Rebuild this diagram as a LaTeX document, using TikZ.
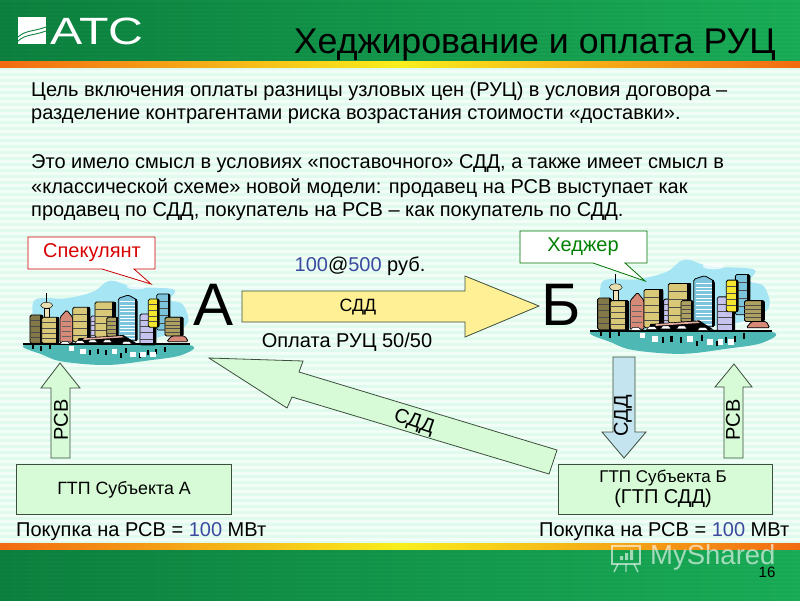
\documentclass[tikz,border=0pt]{standalone}
\usepackage{fontspec}
\setmainfont{Liberation Sans}
\usetikzlibrary{calc}
\definecolor{numblue}{HTML}{3A4A9E}
\definecolor{boxgreen}{HTML}{D6FBD6}
\definecolor{edgegray}{HTML}{3C4F3C}
\definecolor{headL}{HTML}{0D8240}
\definecolor{headR}{HTML}{1AAE58}
\definecolor{bandO}{HTML}{F26A12}
\definecolor{bandY}{HTML}{F8EE1C}
\definecolor{mint}{HTML}{E0FAEE}
\definecolor{sky}{HTML}{A6E6F4}
\definecolor{teal}{HTML}{4DB8B4}
\definecolor{tan}{HTML}{D8C878}
\definecolor{lilac}{HTML}{C6C4EE}
\definecolor{salmon}{HTML}{D88A78}
\definecolor{steel}{HTML}{7CC4DC}
\definecolor{softyellow}{HTML}{FFF096}
\tikzset{
  blockarrow/.style={draw=edgegray,line width=.8pt,line join=miter},
  bodyline/.style={anchor=base west,inner sep=0pt,font=\fontsize{20}{22}\selectfont},
  smalllabel/.style={inner sep=0pt,font=\fontsize{17.8}{20}\selectfont},
  midlabel/.style={inner sep=0pt,font=\fontsize{20}{22}\selectfont},
  bigletter/.style={inner sep=0pt,anchor=base,font=\fontsize{60}{62}\selectfont},
  stationbox/.style={draw=edgegray,fill=boxgreen,line width=.8pt},
  bld/.style={draw=black,line width=.8pt,rounded corners=1.5pt},
}
\newcommand{\bldg}[5]{%
  \fill[#5,bld] (#1,#2) rectangle (#3,#4);
  \fill[black] ({#3-(#3-#1)*.18},#2) rectangle (#3,#4);
  \foreach \wy in {0.2,0.4,0.6,0.8}
    \draw[black!70,line width=.45pt] (#1,{#2+(#4-#2)*\wy}) -- ({#3-(#3-#1)*.18},{#2+(#4-#2)*\wy});
}
\newcommand{\cityscape}[4]{%
\begin{scope}[shift={(#1,#2)},x=#3pt,y=-#4pt]
  \fill[sky] plot[smooth cycle,tension=.6] coordinates {(100,215) (200,205) (280,185) (330,152) (400,170) (520,178) (510,210) (550,225) (555,290) (420,330) (150,330)};
  \fill[white,opacity=.7] (410,170) ellipse (30 and 8);
  \fill[teal] plot[smooth cycle,tension=.6] coordinates {(75,345) (300,340) (565,345) (545,375) (440,392) (320,405) (190,395) (130,375)};
  \bldg{90}{255}{128}{340}{tan!60!black}
  \fill[black] (138,190) rectangle (142,215);
  \fill[tan!60!white,draw=black] (140,226) ellipse (18 and 9);
  \fill[tan!50!white,draw=black] (133,234) rectangle (148,262);
  \bldg{125}{262}{176}{340}{tan}
  \fill[salmon,bld] (180,340) -- (180,262) -- (200,240) -- (218,262) -- (218,340) -- cycle;
  \foreach \yy in {275,290,...,335} \draw[black!60,line width=.4pt] (186,\yy) -- (212,\yy);
  \bldg{218}{232}{270}{335}{tan}
  \bldg{272}{258}{300}{330}{lilac}
  \bldg{285}{216}{347}{322}{tan}
  \bldg{320}{262}{354}{320}{tan!80!black}
  \fill[steel,bld] (355,205) -- (385,195) -- (412,210) -- (412,332) -- (355,332) -- cycle;
  \foreach \yy in {215,225,...,325} \draw[white,line width=.5pt] (360,\yy) -- (405,\yy);
  \fill[black] (405,208) rectangle (412,332);
  \bldg{420}{252}{468}{345}{lilac}
  \bldg{470}{192}{510}{300}{steel}
  \bldg{445}{207}{478}{292}{yellow!70!tan}
  \fill[teal!60!white,bld] (497,262) arc[start angle=180,end angle=0,x radius=26,y radius=22] -- cycle;
  \bldg{495}{262}{550}{318}{tan!80!black}
  \fill[salmon,bld] (500,335) -- (515,318) -- (555,318) -- (565,335) -- cycle;
  \fill[black] (235,325) -- (370,315) -- (410,340) -- (230,345) -- cycle;
  \fill[salmon!70!white] (250,325) -- (365,318) -- (372,322) -- (250,330) -- cycle;
  \fill[black] (68,340) rectangle (570,345);
  \foreach \xa/\ya in {195/342,240/340,278/338,322/338,380/342}
    \fill[white,draw=black,line width=.4pt] (\xa-15,\ya) -- (\xa+15,\ya) -- (\xa+8,\ya-8) -- (\xa-8,\ya-8) -- cycle;
  \foreach \xb/\yb in {100/358,125/362,150/358,272/375,295/372,320/375,365/385,378/370,420/385,445/375,470/372,495/365}
    \fill[black] (\xb-4,\yb-15) rectangle (\xb+2,\yb);
  \foreach \xb/\yb in {215/362,250/372,345/372,400/380,430/380,460/380}
    \fill[white] (\xb-9,\yb-14) rectangle (\xb+7,\yb);
\end{scope}}
\begin{document}
\begin{tikzpicture}[x=1pt,y=-1pt]
\useasboundingbox (0,0) rectangle (800,600);
% background
\fill[mint] (0,0) rectangle (800,600);
\foreach \sy in {70,76,...,540} \fill[white,opacity=.6] (0,\sy) rectangle (800,\sy+3);
% header and footer
\fill[left color=headL,right color=headR] (0,0) rectangle (800,61);
\fill[left color=bandO,right color=bandO,middle color=bandY] (0,61) rectangle (800,67);
\fill[left color=headL,right color=headR] (0,549) rectangle (800,600);
\fill[left color=bandO,right color=bandO,middle color=bandY] (0,543) rectangle (800,549);
\foreach \sy in {3,7,...,59} \fill[black,opacity=.03] (0,\sy) rectangle (800,\sy+2);
\foreach \sy in {551,555,...,599} \fill[black,opacity=.03] (0,\sy) rectangle (800,\sy+2);
% logo
\fill[white] (18,17) -- (46,17) -- (46,44) -- (18,44) -- cycle;
\draw[headL,line width=.9pt] (18,37) .. controls (26,30) and (32,32) .. (46,27);
\draw[headL,line width=.9pt] (18,41) .. controls (26,34) and (32,36) .. (46,31);
\node[text=white,inner sep=0pt,anchor=base,xscale=1.27,font=\fontsize{38}{40}\selectfont] (logo) at (97,44) {АТС};
% title
\node[inner sep=0pt,anchor=base east,font=\fontsize{35.7}{38}\selectfont] (title) at (776,53) {Хеджирование и оплата РУЦ};
% body text
\node[bodyline] (l1) at (31,96) {Цель включения оплаты разницы узловых цен (РУЦ) в условия договора –};
\node[bodyline] (l2) at (31,119) {разделение контрагентами риска возрастания стоимости «доставки».};
\node[bodyline] (l3) at (31,168) {Это имело смысл в условиях «поставочного» СДД, а также имеет смысл в};
\node[bodyline] (l4) at (31,193) {«классической схеме» новой модели: продавец на РСВ выступает как};
\node[bodyline] (l5) at (31,216) {продавец по СДД, покупатель на РСВ – как покупатель по СДД.};
% cities
\cityscape{0}{230}{.3333}{.3333}
\cityscape{565}{203}{.3625}{.3725}
% callouts
\draw[fill=white,draw=red!80!black,line width=.8pt,line join=miter] (28,237) -- (155,237) -- (155,269) -- (134,269) -- (151,284) -- (102,269) -- (28,269) -- cycle;
\node[midlabel,text=red!85!black] (spec) at (92,253) {Спекулянт};
\draw[fill=white,draw=green!45!black,line width=.8pt,line join=miter] (520,231) -- (647,231) -- (647,263) -- (625,263) -- (645,281) -- (593,263) -- (520,263) -- cycle;
\node[midlabel,text=green!50!black] (hedg) at (583,247) {Хеджер};
% big letters
\node[bigletter] (A) at (214,325) {А};
\node[bigletter] (B) at (561,325) {Б};
% arrows
\draw[blockarrow,fill=softyellow] (242,291) -- (465,291) -- (465,276) -- (539,306) -- (465,337) -- (465,322) -- (242,322) -- cycle;
\node[smalllabel] (sdd1) at (358,307) {СДД};
\draw[blockarrow,fill=boxgreen] (209,358) -- (303,361) -- (299,372) -- (557,450) -- (549,474) -- (292,397) -- (287,408) -- cycle;
\node[midlabel,rotate=-19] (sdd2) at (414,422) {СДД};
\draw[blockarrow,fill=boxgreen] (60,363) -- (80,388) -- (70,388) -- (70,458) -- (51,458) -- (51,388) -- (41,388) -- cycle;
\node[midlabel,rotate=90] (rsv1) at (61,420) {РСВ};
\draw[blockarrow,fill=boxgreen] (734,364) -- (752,387) -- (743,387) -- (743,458) -- (724,458) -- (724,387) -- (715,387) -- cycle;
\node[midlabel,rotate=90] (rsv2) at (733,420) {РСВ};
\draw[blockarrow,fill=steel!45!white] (613,357) -- (635,357) -- (635,432) -- (646,432) -- (624,458) -- (602,432) -- (613,432) -- cycle;
\node[midlabel,rotate=90] (sdd3) at (623,416) {СДД};
% boxes
\draw[stationbox] (16,464) rectangle (231,514);
\node[smalllabel] (gtpa) at (124,490) {ГТП Субъекта А};
\draw[stationbox] (558,464) rectangle (772,514);
\node[smalllabel,align=center] (gtpb) at (663,489) {\fontsize{17}{19}\selectfont ГТП Субъекта Б\\[1pt]{\fontsize{20}{21}\selectfont (ГТП СДД)}};
% labels
\node[midlabel,anchor=base] (price) at (360,271) {\textcolor{numblue}{100}@\textcolor{numblue}{500} руб.};
\node[midlabel,anchor=base] (pay) at (347,347) {Оплата РУЦ 50/50};
\node[midlabel,anchor=base west] (buya) at (16,536) {Покупка на РСВ = \textcolor{numblue}{100} МВт};
\node[midlabel,anchor=base west] (buyb) at (539,536) {Покупка на РСВ = \textcolor{numblue}{100} МВт};
% watermark
\begin{scope}[white,opacity=.6,line width=1.4pt]
\draw (612,546) rectangle (640,564);
\draw (618,564) -- (614,572) (634,564) -- (638,572) (626,564) -- (626,572);
\fill (620,556) rectangle (623,560) (625,553) rectangle (628,560) (630,550) rectangle (633,560);
\end{scope}
\node[inner sep=0pt,anchor=base west,text=white,opacity=.6,font=\fontsize{27.5}{30}\selectfont] (mark) at (650,564) {MyShared};
\node[inner sep=0pt,anchor=base,font=\fontsize{15}{17}\selectfont] (page) at (767,577) {16};
\end{tikzpicture}
\end{document}
